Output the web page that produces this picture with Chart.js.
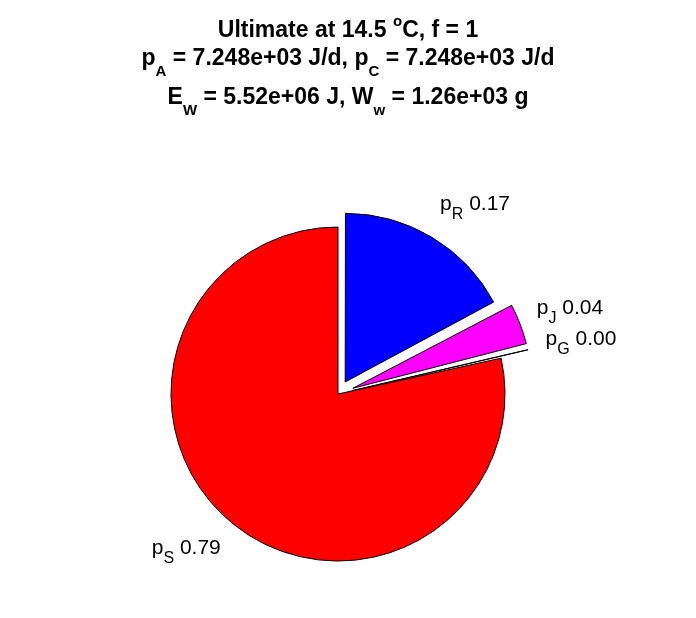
<!DOCTYPE html>
<html>
<head>
<meta charset="utf-8">
<script src="https://cdn.jsdelivr.net/npm/chart.js@4.4.0/dist/chart.umd.min.js"></script>
<style>
body { margin: 0; background: #fff; }
#wrap { position: relative; width: 696px; height: 618px; }
#pie { position: absolute; left: 0; top: 0; }
.ttl { position: absolute; left: 0; width: 696px; text-align: center; font: bold 23px 'Liberation Sans', Arial, sans-serif; line-height: 1; white-space: nowrap; color: #000; }
.ttl sub, .ttl sup { font-size: 15px; line-height: 0; vertical-align: baseline; position: relative; }
.ttl sub { top: 11px; }
.ttl sup { top: -11px; }
</style>
</head>
<body>
<div id="wrap">
  <canvas id="pie" width="696" height="618"></canvas>
  <div class="ttl" style="top:18px">Ultimate at 14.5 <sup>o</sup>C, f = 1</div>
  <div class="ttl" style="top:46px">p<sub>A</sub> = 7.248e+03 J/d, p<sub>C</sub> = 7.248e+03 J/d</div>
  <div class="ttl" style="top:85px">E<sub>W</sub> = 5.52e+06 J, W<sub>w</sub> = 1.26e+03 g</div>
</div>
<script>
// fatias (sentido horario a partir do topo)
const nomes = ['R', 'J', 'G', 'S']
const valores = [0.172, 0.040, 0.004, 0.786]

// estilo
const cores = ['#0000ff', '#ff00ff', '#ffffff', '#ff0000']
const explode = [56, 64, 57, 0]

// rotulos "p_X 0.00" fora de cada fatia
const rotulosPlugin = {
    id: 'rotulos',
    afterDatasetsDraw(chart) {
        const ctx = chart.ctx
        const meta = chart.getDatasetMeta(0)
        const fonte = '21px "Liberation Sans", Arial, sans-serif'
        const fonteSub = '16px "Liberation Sans", Arial, sans-serif'
        ctx.save()
        ctx.fillStyle = '#000'
        ctx.textBaseline = 'alphabetic'
        ctx.textAlign = 'left'
        meta.data.forEach((arc, i) => {
            const p = arc.getProps(['x', 'y', 'startAngle', 'endAngle', 'outerRadius', 'circumference'], true)
            const meio = (p.startAngle + p.endAngle) / 2
            const off = (arc.options.offset || 0) / 4
            const desloc = off * (2 - Math.sin(Math.min(Math.PI, p.circumference)))
            const dist = desloc + p.outerRadius * 1.12
            const ax = p.x + Math.cos(meio) * dist
            const ay = p.y + Math.sin(meio) * dist

            const txtVal = ' ' + valores[i].toFixed(2)
            ctx.font = fonte
            const wP = ctx.measureText('p').width
            const wVal = ctx.measureText(txtVal).width
            ctx.font = fonteSub
            const wSub = ctx.measureText(nomes[i]).width
            const w = wP + wSub + wVal
            const h = 24

            let x = Math.cos(meio) >= 0 ? ax - 2 : ax - w
            const cy = ay + Math.sin(meio) * h * 0.6
            const base = cy + 2.7

            ctx.font = fonte
            ctx.fillText('p', x, base)
            x += wP
            ctx.font = fonteSub
            ctx.fillText(nomes[i], x, base + 9)
            x += wSub
            ctx.font = fonte
            ctx.fillText(txtVal, x, base)
        })
        ctx.restore()
    }
}

const ctx = document.getElementById('pie')
const grafico = new Chart(ctx, {
    type: 'pie',
    data: {
        labels: nomes.map(n => 'p' + n),
        datasets: [{
            data: valores,
            backgroundColor: cores,
            borderColor: '#000000',
            borderWidth: 1,
            borderJoinStyle: 'miter',
            offset: explode,
            hoverOffset: 0,
            radius: 167
        }]
    },
    options: {
        responsive: false,
        animation: false,
        events: [],
        devicePixelRatio: 1,
        layout: { padding: { left: 0, right: 20, top: 170, bottom: 0 } },
        plugins: {
            legend: { display: false },
            tooltip: { enabled: false },
            title: { display: false }
        }
    },
    plugins: [rotulosPlugin]
})
</script>
</body>
</html>
